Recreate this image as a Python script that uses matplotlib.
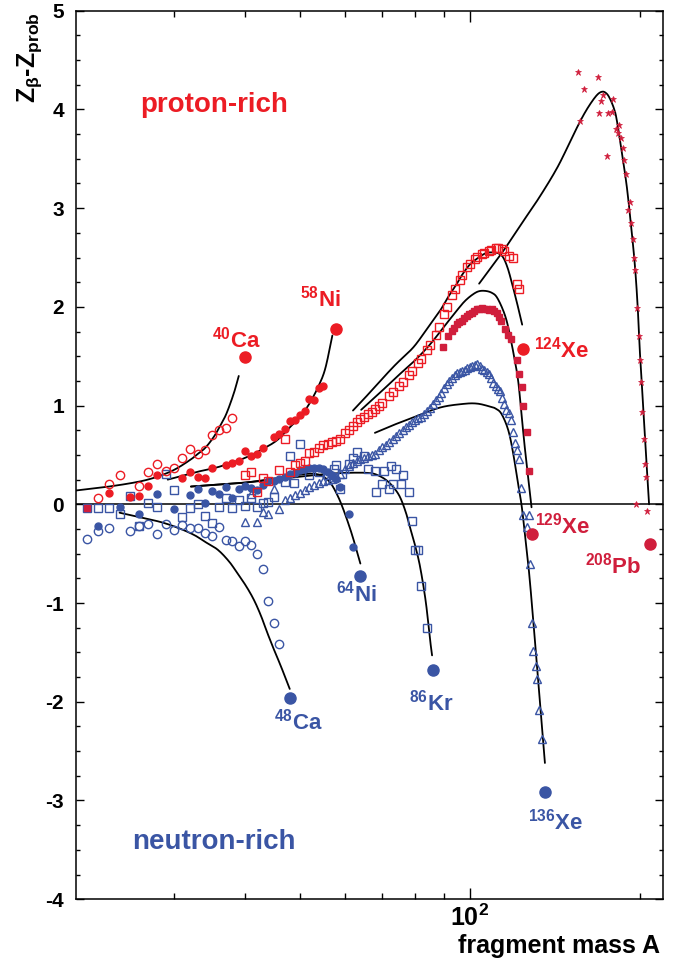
import matplotlib
matplotlib.use("Agg")
import numpy as np
import matplotlib.pyplot as plt
from matplotlib.ticker import NullFormatter, FixedLocator

plt.rcParams['font.family'] = ['Liberation Sans', 'DejaVu Sans']
plt.rcParams['font.weight'] = 'bold'
plt.rcParams['mathtext.fontset'] = 'custom'
plt.rcParams['mathtext.rm'] = 'Liberation Sans:bold'
plt.rcParams['mathtext.it'] = 'Liberation Sans:bold'
plt.rcParams['mathtext.bf'] = 'Liberation Sans:bold'
plt.rcParams['mathtext.sf'] = 'Liberation Sans:bold'

RED = '#ec1c24'
CRIMSON = '#d01e3c'
BLUE = '#3a55a4'

# ---------------- data (fragment mass A, Z_beta - Z_prob) ----------------
ca40_A = [22, 23, 24, 26, 27, 28, 29, 30, 31, 32, 33, 34, 35, 36, 37, 38]
ca40_Z = [0.06, 0.21, 0.30, 0.19, 0.33, 0.41, 0.34, 0.37, 0.47, 0.56, 0.51, 0.55, 0.70, 0.75, 0.77, 0.87]

ni58_A = [23, 25, 26, 27, 28, 31, 32, 33, 34, 35, 37, 38, 39, 40, 41, 42, 43, 45, 46, 47, 48, 49, 50, 51, 52, 53, 54, 55]
ni58_Z = [0.11, 0.07, 0.08, 0.19, 0.30, 0.27, 0.33, 0.28, 0.27, 0.37, 0.40, 0.42, 0.44, 0.54, 0.49, 0.51, 0.57,
          0.68, 0.71, 0.76, 0.84, 0.85, 0.90, 0.95, 1.07, 1.06, 1.18, 1.20]

xe124_A = [40, 41, 42, 43, 44, 46, 47, 48, 49, 50, 51, 52, 53, 54, 55, 56, 57, 58, 59, 60, 61, 62, 63, 64, 65,
           66, 67, 68, 69, 70, 72, 73, 75, 76, 78, 79, 81, 82, 84, 85, 87, 88, 90, 91, 93, 94, 96, 97, 99, 100,
           102, 103, 105, 106, 108, 109, 111, 112, 114, 115, 117, 119, 121, 122]
xe124_Z = [0.30, 0.33, 0.12, 0.27, 0.24, 0.35, 0.66, 0.33, 0.40, 0.42, 0.44, 0.52, 0.53, 0.57, 0.60, 0.61, 0.63,
           0.64, 0.66, 0.72, 0.75, 0.79, 0.83, 0.86, 0.88, 0.91, 0.94, 0.97, 1.00, 1.03, 1.10, 1.14, 1.20, 1.24,
           1.31, 1.35, 1.43, 1.47, 1.56, 1.61, 1.72, 1.80, 1.93, 2.00, 2.12, 2.18, 2.27, 2.32, 2.40, 2.43, 2.48,
           2.51, 2.54, 2.55, 2.57, 2.58, 2.60, 2.60, 2.59, 2.57, 2.52, 2.49, 2.23, 2.18]

xe129_A = [21, 89.7, 91.6, 92.8, 93.7, 94.7, 95.7, 96.7, 97.7, 98.7, 99.7, 100.7, 101.7, 102.8, 103.8, 104.9, 106,
           107, 108.1, 109.2, 110.3, 111.5, 112.6, 113.7, 115.3, 116.9, 118.4, 120.9, 122.1, 123.4, 124.2, 126.0,
           127.3]
xe129_Z = [-0.04, 1.59, 1.70, 1.76, 1.79, 1.83, 1.85, 1.86, 1.89, 1.91, 1.93, 1.94, 1.96, 1.98, 1.98, 1.99, 1.98,
           1.98, 1.97, 1.98, 1.96, 1.94, 1.90, 1.86, 1.78, 1.72, 1.67, 1.46, 1.32, 1.19, 1.00, 0.73, 0.34]

pb208_A = [155.4, 159.3, 156.4, 168.5, 170.5, 172, 179.2, 169, 175.5, 178, 181.6, 183.5, 182.4, 185.3, 186.5, 187,
           188.5, 174.4, 191.6, 190.6, 192.9, 194.2, 195.3, 196.1, 197.7, 198.8, 199.8, 201, 201.8, 202.9, 204,
           204.8, 196.9, 206]
pb208_Z = [4.38, 4.21, 3.88, 4.33, 4.09, 4.15, 4.11, 3.96, 3.96, 3.97, 3.80, 3.84, 3.76, 3.71, 3.61, 3.49, 3.35,
           3.53, 3.06, 2.98, 2.85, 2.69, 2.50, 2.37, 1.99, 1.70, 1.46, 1.24, 0.94, 0.66, 0.41, 0.28, 0.0, -0.07]

ca48_A = [21, 22, 23, 25, 26, 27, 28, 29, 30, 31, 32, 33, 34, 35, 36, 37, 38, 39, 40, 41, 42, 43, 44, 45, 46]
ca48_Z = [-0.35, -0.27, -0.24, -0.27, -0.22, -0.20, -0.30, -0.20, -0.26, -0.21, -0.24, -0.24, -0.29, -0.32,
          -0.23, -0.36, -0.37, -0.42, -0.37, -0.41, -0.50, -0.66, -0.98, -1.20, -1.42]

ni64_A = [22, 24, 26, 28, 30, 32, 33, 34, 35, 36, 37, 38, 39, 40, 41, 42, 43, 44, 45, 46, 47, 48, 49, 50, 51, 52,
          53, 54, 55, 56, 57, 58, 59, 61, 62]
ni64_Z = [-0.22, -0.03, -0.10, 0.10, -0.05, 0.09, 0.16, 0.01, 0.13, 0.10, 0.18, 0.06, 0.16, 0.19, 0.17, 0.14,
          0.20, 0.24, 0.24, 0.26, 0.28, 0.31, 0.32, 0.35, 0.36, 0.37, 0.37, 0.37, 0.36, 0.33, 0.30, 0.26, 0.18,
          -0.10, -0.43]

kr86_A = [21, 22, 23, 24, 25, 26, 27, 28, 29, 30, 31, 32, 33, 34, 35, 36, 37, 38, 39, 40, 41, 42, 43, 44, 45,
          47, 48, 48.8, 50, 52, 54, 56, 57.5, 58, 59, 59.5, 61, 62, 63, 65, 66, 68, 68.3, 70, 70.5, 72, 72.5, 73,
          74, 75.5, 76, 78, 79, 80, 81, 82, 84]
kr86_Z = [-0.04, -0.04, -0.04, -0.10, 0.085, -0.22, 0.016, -0.027, 0.305, 0.15, -0.13, -0.04, 0.0, -0.12, -0.19,
          -0.03, 0.06, -0.04, 0.04, -0.02, 0.06, -0.03, 0.013, 0.023, 0.07, 0.23, 0.49, 0.22, 0.61, 0.30, 0.33,
          0.30, 0.36, 0.40, 0.16, 0.31, 0.41, 0.47, 0.53, 0.49, 0.36, 0.34, 0.12, 0.21, 0.34, 0.16, 0.39, 0.21,
          0.36, 0.21, 0.30, 0.125, -0.17, -0.46, -0.46, -0.83, -1.25]

xe136_A = [40, 41, 42, 43, 44, 45, 46, 47, 48, 49, 50, 51, 52, 53, 54, 55, 56, 57, 58, 59, 60, 61, 62, 63, 64,
           65, 66, 67, 68, 69, 70, 71, 72, 73, 74, 75, 76, 77, 78, 79, 80, 81, 82, 83, 84, 85, 86, 87, 88, 89,
           90, 91, 92, 93, 94, 95, 96, 97, 98, 99, 100, 101, 102, 103, 104, 105, 106, 107, 108, 109, 110, 111,
           112, 113, 114, 115, 116, 117, 118, 119, 120, 121, 122, 123, 124, 126, 127, 127.5, 128.5, 129.3, 130.8,
           131.5, 132.5, 133.9]
xe136_Z = [-0.18, 0.10, -0.18, -0.08, -0.10, 0.16, -0.05, 0.04, 0.06, 0.09, 0.11, 0.15, 0.18, 0.20, 0.22, 0.24,
           0.25, 0.26, 0.28, 0.31, 0.36, 0.39, 0.42, 0.44, 0.46, 0.47, 0.49, 0.50, 0.51, 0.55, 0.58, 0.60, 0.63,
           0.66, 0.69, 0.72, 0.75, 0.78, 0.80, 0.83, 0.85, 0.87, 0.88, 0.91, 0.95, 0.98, 1.02, 1.06, 1.09, 1.13,
           1.18, 1.22, 1.25, 1.28, 1.31, 1.33, 1.34, 1.35, 1.36, 1.38, 1.39, 1.40, 1.41, 1.42, 1.40, 1.37, 1.36,
           1.34, 1.32, 1.28, 1.23, 1.20, 1.17, 1.15, 1.08, 1.02, 0.96, 0.92, 0.85, 0.73, 0.62, 0.55, 0.46, 0.17,
           -0.11, -0.23, -0.11, -0.60, -1.20, -1.49, -1.64, -1.77, -2.08, -2.38]

# projectiles
proj_A = [40, 58, 124, 129, 208, 48, 64, 86, 136]
proj_Z = [1.495, 1.78, 1.57, -0.30, -0.40, -1.96, -0.73, -1.68, -2.91]
proj_color = [RED, RED, RED, CRIMSON, CRIMSON, BLUE, BLUE, BLUE, BLUE]
label_text = [r'$^{40}$Ca', r'$^{58}$Ni', r'$^{124}$Xe', r'$^{129}$Xe', r'$^{208}$Pb',
              r'$^{48}$Ca', r'$^{64}$Ni', r'$^{86}$Kr', r'$^{136}$Xe']
label_A = [38.6, 54.4, 145.4, 146.0, 179.1, 49.8, 63.0, 85.3, 141.9]
label_Z = [1.59, 2.00, 1.49, -0.30, -0.70, -2.28, -0.98, -2.09, -3.29]

# model curves
cur_ca40_A = [20.1, 23, 26, 28, 30, 32, 33, 34, 35.2, 36.2, 37.1, 38.2, 39.0]
cur_ca40_Z = [0.14, 0.18, 0.23, 0.28, 0.35, 0.45, 0.51, 0.57, 0.68, 0.80, 0.92, 1.12, 1.30]
cur_ni58_A = [29.2, 33, 36, 40, 43, 45.6, 48, 50, 52, 54, 55.5, 57.1]
cur_ni58_Z = [0.25, 0.33, 0.38, 0.47, 0.56, 0.65, 0.78, 0.88, 1.02, 1.20, 1.38, 1.71]
cur_xe124_A = [62.1, 65, 69.4, 74, 79.4, 84, 88.5, 91.5, 94.7, 97, 100, 103, 105.5, 107.5, 110.4, 112.5, 114.5,
               116.5, 118.4, 121, 123.7]
cur_xe124_Z = [0.95, 1.07, 1.25, 1.42, 1.59, 1.78, 1.96, 2.10, 2.23, 2.33, 2.43, 2.49, 2.53, 2.55, 2.55, 2.54,
               2.50, 2.40, 2.26, 2.05, 1.82]
cur_xe129_A = [64.2, 69, 74.2, 80, 85, 90, 94.7, 98, 101.4, 104, 107, 109.5, 111.5, 114, 116.1, 118, 120.1,
               121.7, 123.3, 125, 128.5]
cur_xe129_Z = [0.957, 1.12, 1.29, 1.46, 1.62, 1.80, 1.96, 2.06, 2.13, 2.16, 2.16, 2.14, 2.10, 1.99, 1.86, 1.68,
               1.45, 1.25, 0.93, 0.58, -0.03]
cur_pb208_A = [103.8, 114, 124.3, 133, 143, 152.3, 158, 163, 168, 171.6, 174.5, 176.8, 179.5, 181.6, 185, 189.2,
               192.5, 195.7, 198, 199.7, 201.8, 203.8, 205.7, 207.4]
cur_pb208_Z = [2.235, 2.55, 2.87, 3.12, 3.42, 3.74, 3.92, 4.05, 4.15, 4.18, 4.16, 4.11, 4.02, 3.91, 3.62, 3.24,
               2.85, 2.43, 2.00, 1.56, 1.13, 0.71, 0.33, 0.0]
cur_xe136_A = [67.9, 73, 79.4, 88.5, 97.3, 103, 108.5, 111, 113.7, 116.9, 119.3, 121.5, 123.4, 125.5, 127.6,
               131.5, 135.7]
cur_xe136_Z = [0.724, 0.80, 0.88, 0.98, 1.017, 1.02, 0.99, 0.97, 0.916, 0.75, 0.51, 0.22, -0.01, -0.38, -0.77,
               -1.66, -2.62]
cur_ca48_A = [24.0, 26, 28.4, 30.5, 32.5, 34, 35.8, 37.5, 38.8, 40.2, 41.5, 42.7, 43.8, 45, 46.3, 48.0]
cur_ca48_Z = [-0.085, -0.13, -0.18, -0.24, -0.31, -0.38, -0.46, -0.58, -0.70, -0.83, -0.97, -1.13, -1.30, -1.47,
              -1.64, -1.87]
cur_ni64_A = [32.1, 36, 40, 45, 50, 53, 55, 56.6, 58.2, 59.7, 61.8, 64]
cur_ni64_Z = [0.18, 0.20, 0.22, 0.26, 0.30, 0.31, 0.28, 0.22, 0.10, -0.05, -0.30, -0.60]
cur_kr86_A = [32.1, 40, 50, 56.6, 62, 66.6, 69, 71.3, 73.3, 75.2, 77, 78.3, 80, 81.6, 83.5, 85, 85.7]
cur_kr86_Z = [0.18, 0.22, 0.28, 0.31, 0.32, 0.316, 0.29, 0.24, 0.17, 0.074, -0.08, -0.23, -0.42, -0.63, -0.98,
              -1.37, -1.53]

yticks = [-4, -3, -2, -1, 0, 1, 2, 3, 4, 5]
ytick_labels = ['-4', '-3', '-2', '-1', '0', '1', '2', '3', '4', '5']


def smooth_line(A, Z, n=12):
    """Centripetal-free Catmull-Rom rendering of a line through the read points (log-x space)."""
    x = np.log10(np.asarray(A, float))
    y = np.asarray(Z, float)
    px = np.concatenate([[2 * x[0] - x[1]], x, [2 * x[-1] - x[-2]]])
    py = np.concatenate([[2 * y[0] - y[1]], y, [2 * y[-1] - y[-2]]])
    xs, ys = [], []
    t = np.linspace(0, 1, n, endpoint=False)
    for i in range(1, len(px) - 2):
        for P, out in ((px, xs), (py, ys)):
            p0, p1, p2, p3 = P[i - 1], P[i], P[i + 1], P[i + 2]
            out.extend(0.5 * ((2 * p1) + (-p0 + p2) * t + (2 * p0 - 5 * p1 + 4 * p2 - p3) * t ** 2
                              + (-p0 + 3 * p1 - 3 * p2 + p3) * t ** 3))
    xs.append(x[-1])
    ys.append(y[-1])
    return 10 ** np.array(xs), np.array(ys)


# ---------------- figure ----------------
fig = plt.figure(figsize=(6.83, 9.68), dpi=100)
ax = fig.add_axes([76 / 683, 1 - 899.2 / 968, (663 - 76) / 683, (899.2 - 10.7) / 968])
ax.set_xscale('log')
ax.set_xlim(20.1, 219.5)
ax.set_ylim(-4, 5)

ax.axhline(0, color='black', lw=1.1, zorder=1)

curves = [(cur_ca40_A, cur_ca40_Z), (cur_ni58_A, cur_ni58_Z), (cur_xe124_A, cur_xe124_Z),
          (cur_xe129_A, cur_xe129_Z), (cur_pb208_A, cur_pb208_Z), (cur_xe136_A, cur_xe136_Z),
          (cur_ca48_A, cur_ca48_Z), (cur_ni64_A, cur_ni64_Z), (cur_kr86_A, cur_kr86_Z)]
for cx, cy in curves:
    sx, sy = smooth_line(cx, cy)
    ax.plot(sx, sy, color='black', lw=1.3, zorder=2, solid_capstyle='round')


def series(A, Z, marker, color, filled, ms, mew=1.0, z=3):
    ax.plot(A, Z, linestyle='none', marker=marker, markersize=ms,
            markerfacecolor=color if filled else 'none', markeredgecolor=color,
            markeredgewidth=mew, zorder=z)


series(ca48_A, ca48_Z, 'o', BLUE, False, 6.0)
series(ni64_A, ni64_Z, 'o', BLUE, True, 5.0)
series(kr86_A, kr86_Z, 's', BLUE, False, 6.0)
series(xe136_A, xe136_Z, '^', BLUE, False, 6.2)
series(ca40_A, ca40_Z, 'o', RED, False, 6.0)
series(ni58_A, ni58_Z, 'o', RED, True, 5.0)
series(xe124_A, xe124_Z, 's', RED, False, 6.0)
series(xe129_A, xe129_Z, 's', CRIMSON, True, 4.8)
series(pb208_A, pb208_Z, '*', CRIMSON, True, 4.8, mew=0.5)

for a, z, c in zip(proj_A, proj_Z, proj_color):
    ax.plot([a], [z], linestyle='none', marker='o', markersize=8, color=c, zorder=4)

for t, a, z, c in zip(label_text, label_A, label_Z, proj_color):
    ax.text(a, z, t, color=c, fontsize=16, fontweight='bold', ha='center', va='baseline', zorder=5)

ax.text(35.3, 3.97, 'proton-rich', color=RED, fontsize=20, fontweight='bold', ha='center', va='baseline')
ax.text(35.2, -3.49, 'neutron-rich', color=BLUE, fontsize=20, fontweight='bold', ha='center', va='baseline')

# axes styling
for sp in ax.spines.values():
    sp.set_linewidth(1.1)
ax.set_yticks(yticks)
ax.set_yticklabels(ytick_labels)
ax.yaxis.set_minor_locator(FixedLocator([v / 4 for v in range(-16, 21)]))
ax.xaxis.set_major_locator(FixedLocator([100]))
ax.set_xticklabels([r'$10^{2}$'])
ax.xaxis.set_minor_locator(FixedLocator([30, 40, 50, 60, 70, 80, 90, 200]))
ax.xaxis.set_minor_formatter(NullFormatter())
ax.tick_params(which='both', direction='in', top=True, right=True, width=1.0, color='black')
ax.tick_params(axis='x', which='major', length=8, pad=4, labelsize=18)
ax.tick_params(axis='x', which='minor', length=4.5)
ax.tick_params(axis='y', which='major', length=6, pad=8.5, labelsize=15)
ax.tick_params(axis='y', which='minor', length=3)
for lab in ax.get_yticklabels() + ax.get_xticklabels():
    lab.set_fontweight('bold')

fig.text(30 / 683, 1 - 12 / 968, r'Z$_{\beta}$-Z$_{prob}$', rotation=90, ha='center', va='top',
         fontsize=18, fontweight='bold')
fig.text(660 / 683, 1 - 953 / 968, 'fragment mass A', ha='right', va='baseline', fontsize=18,
         fontweight='bold')

fig.savefig('out.png', dpi=100)
